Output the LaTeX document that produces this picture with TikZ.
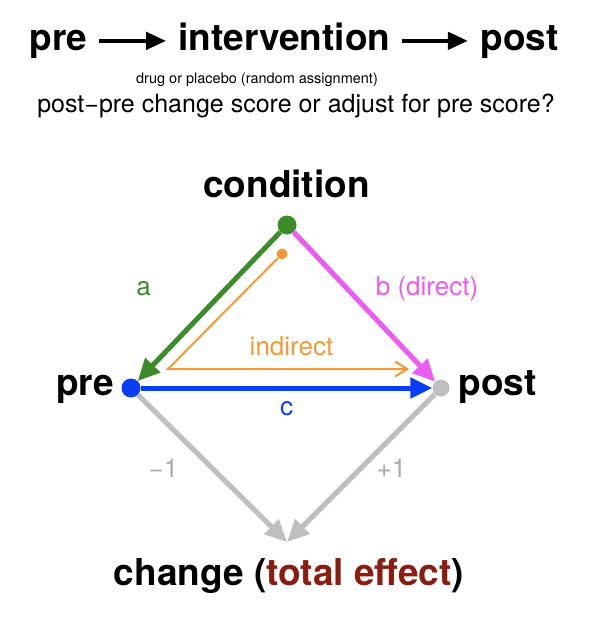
\documentclass[tikz,border=0pt]{standalone}
\usepackage{fontspec}
\setmainfont{TeX Gyre Heros}
\usepackage{xcolor}
\usepackage{tikz}
\usetikzlibrary{arrows.meta}

\definecolor{condgreen}{HTML}{3D8B2B}
\definecolor{dirpink}{HTML}{EC5BF2}
\definecolor{prepostblue}{HTML}{0A3DF7}
\definecolor{indorange}{HTML}{F39A37}
\definecolor{chgray}{HTML}{BFBFBF}
\definecolor{totalred}{HTML}{8A1C10}

\newcommand{\bigfont}{\fontsize{37}{40}\selectfont\bfseries}
\newcommand{\labfont}{\fontsize{26}{30}\selectfont}

\begin{document}
\begin{tikzpicture}[x=1pt, y=-1pt,
    dot/.style={circle, inner sep=0pt, minimum size=19pt},
    bigarrow/.style={line width=5pt, -{Triangle[length=22pt, width=20pt]}},
    titlearrow/.style={line width=4.5pt, shorten <=8pt, shorten >=9pt, -{Triangle[length=20pt, width=17pt]}}]
    \useasboundingbox (0,0) rectangle (592,618);

    % title line
    \node[anchor=base] (tpre) at (58.5,51) {\bigfont pre};
    \node[anchor=base] (tint) at (284.5,51) {\bigfont intervention};
    \node[anchor=base] (tpost) at (519.5,51) {\bigfont post};
    \coordinate (tmid) at ([yshift=4pt]tpre.east);
    \draw[titlearrow] (tmid) -- (tmid -| tint.west);
    \draw[titlearrow] (tmid -| tint.east) -- (tmid -| tpost.west);
    \node[anchor=base] (drug) at (257,83) {\fontsize{14.5}{16}\selectfont drug or placebo (random assignment)};
    \node[anchor=base] (question) at (296,112) {\fontsize{25}{28}\selectfont post−pre change score or adjust for pre score?};

    % dots
    \node[dot, fill=condgreen] (cond) at (287,225) {};
    \node[dot, fill=prepostblue] (pre) at (131,388) {};
    \node[dot, fill=chgray, minimum size=17pt] (post) at (441,388) {};
    \node[dot, fill=indorange, minimum size=11pt] (odot) at (282,254) {};
    \coordinate (ocorner) at (168,369);
    \coordinate (otip) at (409,369);
    \coordinate (chtip) at (287,542);

    % labels
    \node[anchor=base] (condlab) at (286.5,197) {\bigfont condition};
    \node[anchor=base] (prelab) at (85,395) {\bigfont pre};
    \node[anchor=base] (postlab) at (497.5,395) {\bigfont post};
    \node[anchor=base] (chlab) at (289,585) {\bigfont change (\textcolor{totalred}{total effect})};
    \node[anchor=base, condgreen] (alab) at (143.5,295) {\labfont a};
    \node[anchor=base, dirpink] (blab) at (427,295) {\labfont b (direct)};
    \node[anchor=base, indorange] (indlab) at (291.5,355) {\labfont indirect};
    \node[anchor=base, prepostblue] (clab) at (286.5,415) {\labfont c};
    \node[anchor=base, chgray!90!black] (mlab) at (163.5,477) {\labfont −1};
    \node[anchor=base, chgray!90!black] (plab) at (391.5,477) {\labfont +1};

    % connectors
    \draw[bigarrow, condgreen] (cond) -- (pre);
    \draw[bigarrow, dirpink] (cond) -- (post);
    \draw[bigarrow, prepostblue] (pre) -- (post);
    \draw[bigarrow, chgray] (pre) -- (chtip);
    \draw[bigarrow, chgray] (post) -- (chtip);
    \draw[indorange, line width=2pt, -{Straight Barb[length=12pt, width=15pt]}] (odot) -- (ocorner) -- (otip);
\end{tikzpicture}
\end{document}
